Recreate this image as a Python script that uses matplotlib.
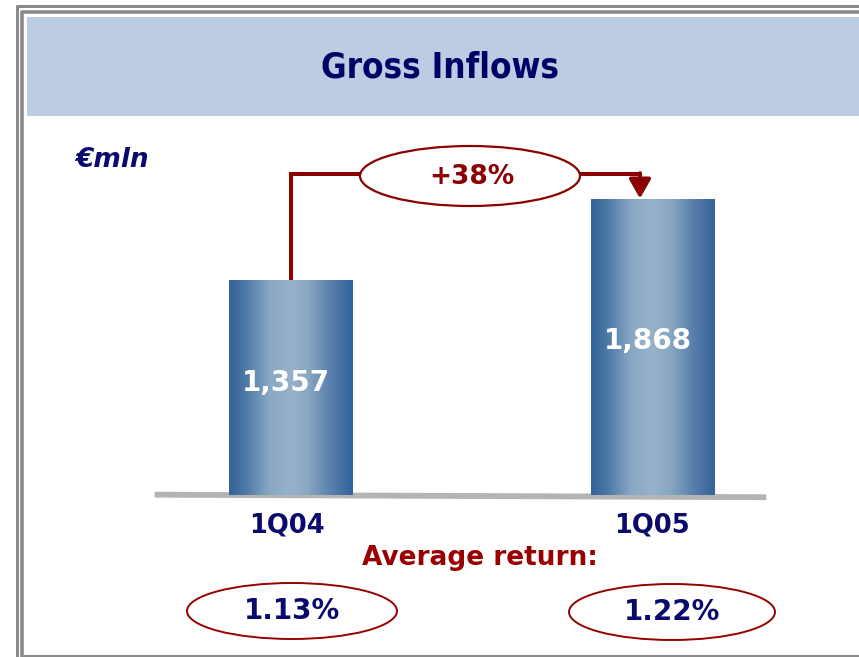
import matplotlib
matplotlib.use("Agg")
import matplotlib.pyplot as plt
import numpy as np
from matplotlib.patches import Ellipse, Rectangle
from matplotlib.colors import LinearSegmentedColormap

# ---- data ----
categories = ["1Q04", "1Q05"]
inflows = [1357, 1868]
value_labels = ["1,357", "1,868"]
growth_label = "+38%"
avg_return = ["1.13%", "1.22%"]
title = "Gross Inflows"
unit = "€mln"

W, H = 859, 657
fig = plt.figure(figsize=(W / 100, H / 100), dpi=100)

# bar axes
base_px = 495
top_px = 130
ax = fig.add_axes([110 / W, 1 - base_px / H, 724 / W, (base_px - top_px) / H])
ax.set_zorder(1)

# overlay axes in pixel coordinates (drawn above bar axes)
pa = fig.add_axes([0, 0, 1, 1])
pa.set_zorder(2)
pa.set_xlim(0, W)
pa.set_ylim(H, 0)
pa.axis("off")
pa.patch.set_alpha(0)

navy = "#0A0A6E"
dred = "#8B0000"
gray = "#8A8A8A"

# borders
pa.add_patch(Rectangle((27, 17), W - 27, 99, facecolor="#BCCCE2", edgecolor="none", zorder=1))
pa.plot([16.5, 16.5, W], [H, 6, 6], color=gray, lw=2.2, solid_capstyle="butt", zorder=2)
pa.plot([22, 22, W], [H, 11.5, 11.5], color=gray, lw=2.6, solid_capstyle="butt", zorder=2)
pa.plot([22, W], [655.5, 655.5], color=gray, lw=2.2, solid_capstyle="butt", zorder=2)

pa.text(440, 68, title, ha="center", va="center", fontsize=25, fontweight="bold",
        fontstretch="condensed", color="#000066",
        family=["Liberation Sans Narrow", "DejaVu Sans"])
pa.text(75, 160, unit, ha="left", va="center", fontsize=19, fontweight="bold",
        fontstyle="italic", color=navy)

ax.set_xlim(-0.5, 1.5)
ymax = 2300
ax.set_ylim(0, ymax)
ax.axis("off")
ax.patch.set_alpha(0)

# baseline (in bar axes so bars sit on top of it)
ax.plot([-0.377, 1.313], [2, -14], color="#B4B4B4", lw=4.2, solid_capstyle="butt",
        zorder=2, clip_on=False)

x = np.arange(len(categories))
bars = ax.bar(x, inflows, width=0.34, color="none", edgecolor="none", zorder=3)

cmap = LinearSegmentedColormap.from_list("barg", [
    (0.0, "#33639A"), (0.12, "#4A76A4"), (0.33, "#8AA8C4"), (0.5, "#96B2CA"),
    (0.64, "#8AA7C3"), (0.82, "#5A80AC"), (1.0, "#33629A")])
grad = np.linspace(0, 1, 256).reshape(1, -1)
for b in bars:
    x0, y0 = b.get_x(), b.get_y()
    w, h = b.get_width(), b.get_height()
    im = ax.imshow(grad, cmap=cmap, aspect="auto", extent=[x0, x0 + w, y0, y0 + h],
                   zorder=3, interpolation="bilinear")
    im.set_clip_path(b)
ax.set_xlim(-0.5, 1.5)
ax.set_ylim(0, ymax)

for xi, v, lab in zip(x, inflows, value_labels):
    ax.text(xi - 0.015, v * 0.52, lab, ha="center", va="center", fontsize=20,
            fontweight="bold", color="white", zorder=5)

# growth connector
y_line = 2020
x_end = 0.964
ax.plot([x[0], x[0], x_end], [inflows[0], y_line, y_line], color=dred, lw=2.9,
        solid_joinstyle="miter", solid_capstyle="butt", zorder=4)
ax.annotate("", xy=(x_end, inflows[1]), xytext=(x_end, y_line + 8),
            arrowprops=dict(arrowstyle="-|>,head_length=1.15,head_width=0.65",
                            color=dred, lw=2.9, shrinkA=0, shrinkB=0), zorder=4)

pa.add_patch(Ellipse((470, 176), 220, 60, facecolor="white", edgecolor=dred, lw=1.6, zorder=6))
pa.text(472, 177, growth_label, ha="center", va="center", fontsize=19, fontweight="bold",
        color=dred, zorder=7)

# category labels
cat_px = [287, 652]
for cx, c in zip(cat_px, categories):
    pa.text(cx, 525, c, ha="center", va="center", fontsize=18.5, fontweight="bold", color=navy)

pa.text(480, 558, "Average return:", ha="center", va="center", fontsize=19,
        fontweight="bold", color="#990000")

ell_px = [(292, 611, 210, 56), (672, 612, 206, 56)]
for (ex, ey, ew, eh), r in zip(ell_px, avg_return):
    pa.add_patch(Ellipse((ex, ey), ew, eh, facecolor="white", edgecolor="#990000", lw=1.4, zorder=6))
    pa.text(ex, ey, r, ha="center", va="center", fontsize=20, fontweight="bold",
            color=navy, zorder=7)

fig.savefig("out.png", dpi=100)
